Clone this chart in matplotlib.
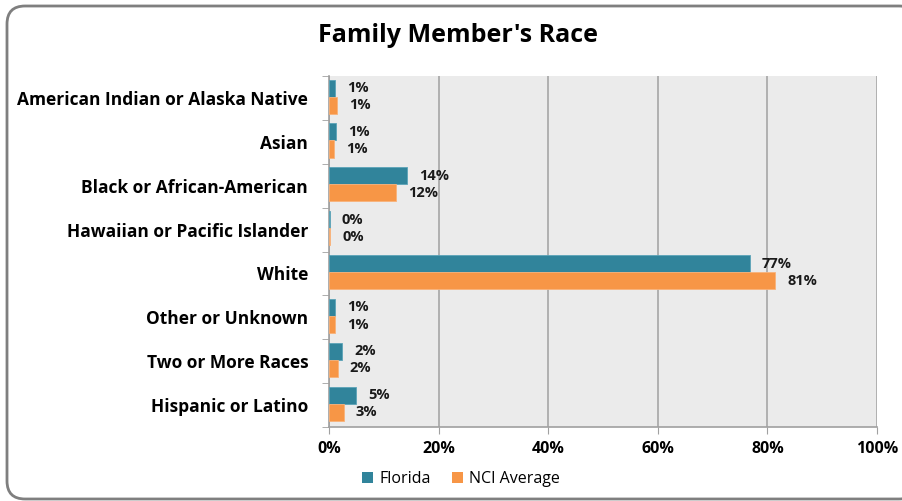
import matplotlib
matplotlib.use("Agg")
import matplotlib.pyplot as plt
from matplotlib.patches import FancyBboxPatch, Patch
import numpy as np

categories = ["American Indian or Alaska Native", "Asian", "Black or African-American",
              "Hawaiian or Pacific Islander", "White", "Other or Unknown",
              "Two or More Races", "Hispanic or Latino"]
florida = [1.1, 1.3, 14.2, 0.1, 76.8, 1.1, 2.4, 4.9]
nci_avg = [1.4, 0.9, 12.2, 0.2, 81.4, 1.1, 1.6, 2.7]
xticks = [0, 20, 40, 60, 80, 100]

teal = "#31849B"
orange = "#F79646"
plt.rcParams['font.family'] = ['Open Sans', 'DejaVu Sans']

fig = plt.figure(figsize=(9.03, 5.01), dpi=100)

# rounded outer frame, kept behind the axes
frame = FancyBboxPatch((7 / 903, 2 / 501), 910 / 903, 493 / 501,
                       boxstyle="round,pad=0,rounding_size=0.02",
                       transform=fig.transFigure, facecolor="white",
                       edgecolor="#7F7F7F", linewidth=2, mutation_aspect=903 / 501,
                       zorder=-5)
fig.patches.append(frame)

ax = fig.add_axes([329 / 903, 1 - 427 / 501, 548 / 903, 351 / 501])
ax.set_facecolor("#EBEBEB")

y = np.arange(len(categories)) - 0.03
h = 0.39
ax.barh(y - h / 2, florida, height=h, color=teal, edgecolor="#5BA3B8", linewidth=0.6, zorder=3)
ax.barh(y + h / 2, nci_avg, height=h, color=orange, edgecolor="#F9B27A", linewidth=0.6, zorder=3)

for i in range(len(categories)):
    ax.annotate(f"{florida[i]:.0f}%", (florida[i], y[i] - h / 2), xytext=(12, 0),
                textcoords="offset pixels", va="center", ha="left",
                fontsize=10.5, fontweight="bold", color="#1A1A1A")
    ax.annotate(f"{nci_avg[i]:.0f}%", (nci_avg[i], y[i] + h / 2), xytext=(12, 0),
                textcoords="offset pixels", va="center", ha="left",
                fontsize=10.5, fontweight="bold", color="#1A1A1A")

ax.set_xlim(0, 100)
ax.set_ylim(len(categories) - 0.5, -0.5)
ax.set_xticks(xticks)
ax.set_xticklabels([f"{t}%" for t in xticks], fontsize=11.5, fontweight="bold")
ax.set_yticks(np.arange(len(categories)))
ax.set_yticklabels(categories, fontsize=12.5, fontweight="bold")
ax.set_yticks(np.arange(len(categories) + 1) - 0.5, minor=True)
ax.tick_params(axis="y", which="major", length=0, pad=15)
ax.tick_params(axis="y", which="minor", length=5, color="#A0A0A0", direction="out")
ax.tick_params(axis="x", length=5, color="#A0A0A0", pad=5)
ax.grid(axis="x", color="#A6A6A6", linewidth=1.2, zorder=0)
ax.set_axisbelow(True)

for side in ["top", "right"]:
    ax.spines[side].set_visible(False)
for side in ["left", "bottom"]:
    ax.spines[side].set_color("#A0A0A0")
    ax.spines[side].set_linewidth(1.2)

fig.text(458 / 903, 1 - 36 / 501, "Family Member's Race", ha="center", va="center",
         fontsize=18, fontweight="bold")

handles = [Patch(facecolor=teal, label="Florida"), Patch(facecolor=orange, label="NCI Average")]
fig.legend(handles=handles, loc="center", bbox_to_anchor=(461 / 903, 1 - 479 / 501), ncol=2,
           frameon=False, fontsize=11.5, handlelength=0.7, handleheight=0.7,
           handletextpad=0.4, columnspacing=1.3)

fig.savefig("out.png", dpi=100)
